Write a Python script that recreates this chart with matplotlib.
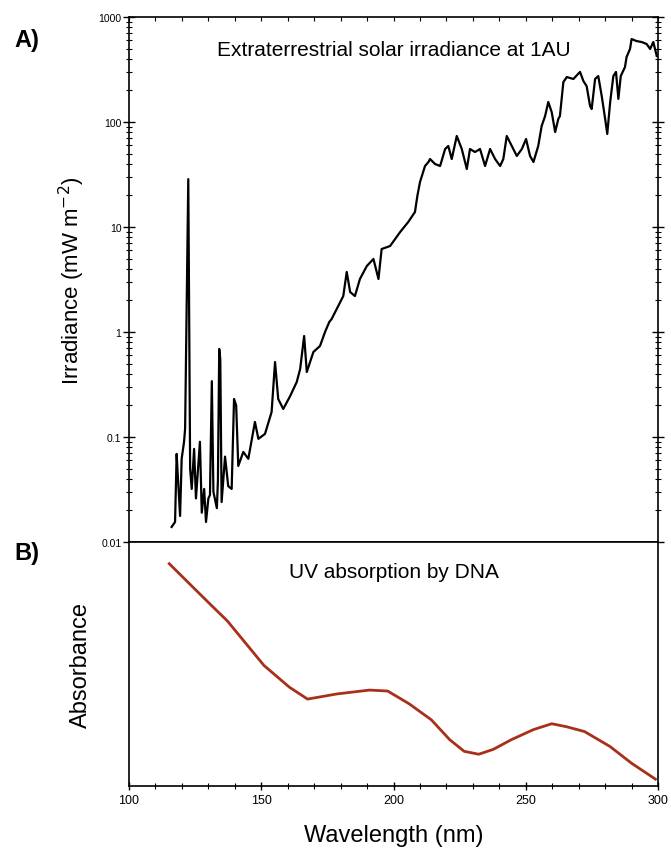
import matplotlib
matplotlib.use('Agg')
import matplotlib.pyplot as plt
import numpy as np
from matplotlib.ticker import LogLocator, FixedLocator, MultipleLocator, NullFormatter, NullLocator

plt.rcParams['font.family'] = ['Liberation Sans', 'DejaVu Sans']

# solar irradiance (nm, mW m-2)
wl_sun = [116.1, 117.4, 118.0, 118.5, 119.3, 119.9, 120.8, 121.2, 121.5, 122.4, 123.1,
          123.7, 124.6, 125.3, 126.1, 126.8, 127.5, 128.4, 129.1, 130.0, 130.6, 131.3,
          131.9, 133.2, 133.6, 134.1, 134.5, 135.0, 136.3, 137.5, 138.8, 139.7, 140.5,
          141.3, 143.2, 145.1, 147.6, 148.9, 151.4, 153.9, 155.2, 156.4, 158.3, 160.9,
          163.4, 164.7, 166.2, 167.2, 169.7, 172.2, 174.1, 175.7, 176.6, 179.1, 181.0,
          182.3, 183.6, 185.4, 187.3, 189.9, 192.4, 194.3, 195.5, 198.7, 202.5, 205.6,
          208.1, 209.0, 210.0, 211.9, 213.2, 213.8, 215.7, 217.6, 219.5, 220.7, 222.0,
          223.9, 225.8, 227.7, 228.9, 230.8, 232.7, 234.6, 236.5, 238.4, 240.3, 241.5,
          242.8, 244.7, 246.6, 248.5, 250.1, 251.6, 252.9, 254.7, 256.0, 257.3, 258.5,
          259.8, 261.1, 262.3, 262.9, 264.2, 265.5, 268.0, 270.5, 271.8, 273.0, 274.3,
          274.9, 276.2, 277.4, 278.7, 280.0, 280.8, 281.9, 283.1, 284.1, 285.0, 285.9,
          287.5, 288.1, 289.4, 290.0, 291.9, 293.8, 295.7, 297.0, 298.2, 299.5]
irr_sun = [0.0139, 0.0155, 0.069, 0.04, 0.0177, 0.062, 0.090, 0.12, 0.47, 28.6, 0.050,
           0.032, 0.077, 0.026, 0.05, 0.090, 0.019, 0.032, 0.0155, 0.026, 0.028, 0.34,
           0.030, 0.021, 0.038, 0.69, 0.55, 0.024, 0.065, 0.034, 0.032, 0.23, 0.20,
           0.053, 0.072, 0.062, 0.139, 0.096, 0.107, 0.173, 0.518, 0.23, 0.185, 0.245,
           0.334, 0.445, 0.916, 0.416, 0.645, 0.736, 1.0, 1.245, 1.33, 1.77, 2.2,
           3.73, 2.4, 2.2, 3.2, 4.25, 4.96, 3.2, 6.17, 6.59, 8.96, 11.2,
           13.9, 19.7, 26.8, 38.1, 41.6, 44.4, 39.8, 38.1, 55.3, 59.1, 44.4,
           73.6, 55.3, 35.7, 55.3, 51.8, 55.3, 38.1, 55.3, 44.4, 38.1, 44.4,
           73.6, 59.1, 47.5, 55.3, 68.9, 47.5, 41.6, 59.1, 91.6, 114, 155,
           124, 80.3, 107, 114, 240, 268, 257, 300, 245, 220, 142,
           133, 257, 274, 177, 107, 76.9, 155, 274, 300, 166, 274,
           334, 416, 496, 617, 590, 578, 553, 496, 578, 426]

# DNA absorbance (arbitrary units)
wl_dna = [115.2, 130.3, 137.2, 151.0, 160.6, 167.5, 178.5, 190.9, 197.8, 206.0, 214.3,
          221.2, 226.7, 232.2, 237.7, 244.6, 252.9, 259.8, 265.3, 272.2, 281.8, 290.0, 299.0]
abs_dna = [0.911, 0.749, 0.676, 0.494, 0.405, 0.356, 0.377, 0.393, 0.389, 0.336, 0.271,
           0.190, 0.142, 0.130, 0.150, 0.190, 0.231, 0.255, 0.243, 0.223, 0.162, 0.093, 0.028]

fig = plt.figure(figsize=(6.71, 8.54), dpi=100)
ax1 = fig.add_axes([0.1923, 0.3642, 0.7884, 0.6147])
ax2 = fig.add_axes([0.1923, 0.0785, 0.7884, 0.2857])

ax1.plot(wl_sun, irr_sun, color='black', lw=1.6)
ax1.set_yscale('log')
ax1.set_xlim(100, 300)
ax1.set_ylim(0.01, 1000)
ax1.yaxis.set_major_locator(FixedLocator([0.01, 0.1, 1, 10, 100, 1000]))
ax1.set_yticklabels(['0.01', '0.1', '1', '10', '100', '1000'])
ax1.yaxis.set_minor_locator(LogLocator(base=10, subs=np.arange(2, 10)))
ax1.yaxis.set_minor_formatter(NullFormatter())
ax1.tick_params(axis='y', which='major', direction='inout', length=9, width=1,
                labelsize=7.5, right=True, pad=1)
ax1.tick_params(axis='y', which='minor', direction='inout', length=4, width=0.8, right=True)
ax1.xaxis.set_major_locator(MultipleLocator(10))
ax1.xaxis.set_minor_locator(NullLocator())
ax1.tick_params(axis='x', which='major', direction='in', length=3, width=0.8,
                bottom=False, top=True, labelbottom=False)
ax1.set_ylabel('Irradiance (mW m$^{-2}$)', fontsize=16, labelpad=8)
ax1.text(0.5, 0.939, 'Extraterrestrial solar irradiance at 1AU', transform=ax1.transAxes,
         ha='center', va='center', fontsize=15)

ax2.plot(wl_dna, abs_dna, color='#a8301a', lw=2.0)
ax2.set_xlim(100, 300)
ax2.set_ylim(0, 1)
ax2.set_yticks([])
ax2.xaxis.set_major_locator(MultipleLocator(50))
ax2.xaxis.set_minor_locator(MultipleLocator(10))
ax2.tick_params(axis='x', which='major', direction='inout', length=6, width=1, labelsize=9, pad=3)
ax2.tick_params(axis='x', which='minor', direction='inout', length=5, width=0.8)
ax2.set_xlabel('Wavelength (nm)', fontsize=17, labelpad=13)
ax2.set_ylabel('Absorbance', fontsize=17, labelpad=27)
ax2.text(0.5, 0.88, 'UV absorption by DNA', transform=ax2.transAxes,
         ha='center', va='center', fontsize=15)

for ax in (ax1, ax2):
    for s in ax.spines.values():
        s.set_linewidth(1.2)

fig.text(0.022, 0.953, 'A)', fontsize=17, fontweight='bold', va='center')
fig.text(0.022, 0.352, 'B)', fontsize=17, fontweight='bold', va='center')

fig.savefig('out.png', dpi=100)
